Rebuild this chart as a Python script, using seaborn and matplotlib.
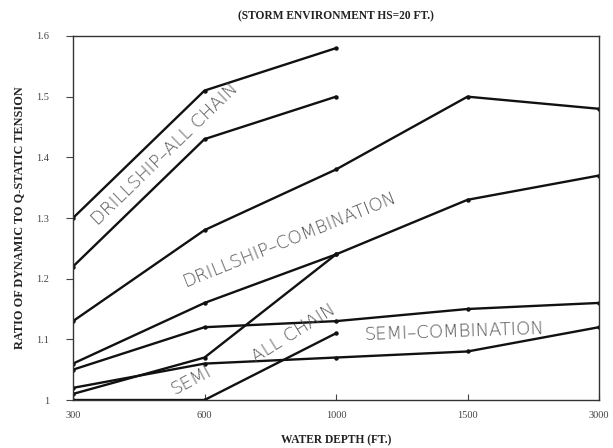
import matplotlib
matplotlib.use("Agg")
import matplotlib.pyplot as plt
import seaborn as sns
import pandas as pd

# Water depth categories (ft), evenly spaced on the axis
depths = ["300", "600", "1000", "1500", "3000"]

# Ratio of dynamic to quasi-static tension for each mooring case
drillship_chain_hi = [1.30, 1.51, 1.58]
drillship_chain_lo = [1.22, 1.43, 1.50]
drillship_comb_hi = [1.13, 1.28, 1.38, 1.50, 1.48]
drillship_comb_lo = [1.06, 1.16, 1.24, 1.33, 1.37]
semi_comb_hi = [1.05, 1.12, 1.13, 1.15, 1.16]
semi_comb_lo = [1.02, 1.06, 1.07, 1.08, 1.12]
semi_chain_hi = [1.01, 1.07, 1.24]
semi_chain_lo = [1.00, 1.00, 1.11]

y_ticks = [1.0, 1.1, 1.2, 1.3, 1.4, 1.5, 1.6]
y_tick_labels = ["1", "1.1", "1.2", "1.3", "1.4", "1.5", "1.6"]

series = {
    "drillship_chain_hi": drillship_chain_hi,
    "drillship_chain_lo": drillship_chain_lo,
    "drillship_comb_hi": drillship_comb_hi,
    "drillship_comb_lo": drillship_comb_lo,
    "semi_comb_hi": semi_comb_hi,
    "semi_comb_lo": semi_comb_lo,
    "semi_chain_hi": semi_chain_hi,
    "semi_chain_lo": semi_chain_lo,
}

rows = []
for name, vals in series.items():
    for d, v in zip(depths, vals):
        rows.append({"series": name, "depth": d, "ratio": v})
df = pd.DataFrame(rows)

sns.set_theme(style="white")
plt.rcParams["font.family"] = ["Liberation Serif", "DejaVu Serif"]

fig = plt.figure(figsize=(6.13, 4.48), dpi=100)
ax = fig.add_axes([73 / 613, 1 - 400 / 448, (599 - 73) / 613, (400 - 36) / 448])

# register category order first
ax.plot(depths, [1.0] * len(depths), alpha=0)

for name in series:
    sub = df[df["series"] == name]
    sns.lineplot(data=sub, x="depth", y="ratio", ax=ax, color="#111111",
                 linewidth=1.7, marker="o", markersize=3.2,
                 markeredgewidth=0, sort=False, estimator=None, legend=False)

ax.set_xlim(0, 4)
ax.set_ylim(1.0, 1.6)
ax.set_yticks(y_ticks)
ax.set_yticklabels(y_tick_labels)

for s in ax.spines.values():
    s.set_color("#333333")
    s.set_linewidth(1.0)

ax.tick_params(axis="y", direction="out", length=5, width=0.8, color="#444444",
               labelsize=7.5, labelcolor="#444444", left=True, pad=12)
ax.tick_params(axis="x", direction="in", length=4, width=0.8, color="#444444",
               labelsize=7.5, labelcolor="#444444", bottom=True, pad=8)

ax.set_xlabel("WATER DEPTH (FT.)", fontsize=8.3, fontweight="bold",
              color="#222222", labelpad=10)
ax.set_ylabel("RATIO OF DYNAMIC TO Q-STATIC TENSION", fontsize=8.8,
              fontweight="bold", color="#222222", labelpad=8)
ax.set_title("(STORM ENVIRONMENT HS=20 FT.)", fontsize=8.3, fontweight="bold",
             color="#222222", pad=12)

# curve labels written along the lines
lab = dict(fontsize=13, color="#555555", family="DejaVu Sans",
           fontweight="light", ha="center", va="center",
           rotation_mode="anchor")
ax.text(0.70, 1.405, "DRILLSHIP\u2013ALL CHAIN", rotation=44, **lab)
ax.text(1.65, 1.265, "DRILLSHIP\u2013COMBINATION", rotation=22, **lab)
ax.text(0.90, 1.032, "SEMI", rotation=28, **lab)
ax.text(1.68, 1.109, "ALL CHAIN", rotation=32, **lab)
ax.text(2.90, 1.112, "SEMI\u2013COMBINATION", rotation=2, **lab)

fig.savefig("out.png", dpi=100)
